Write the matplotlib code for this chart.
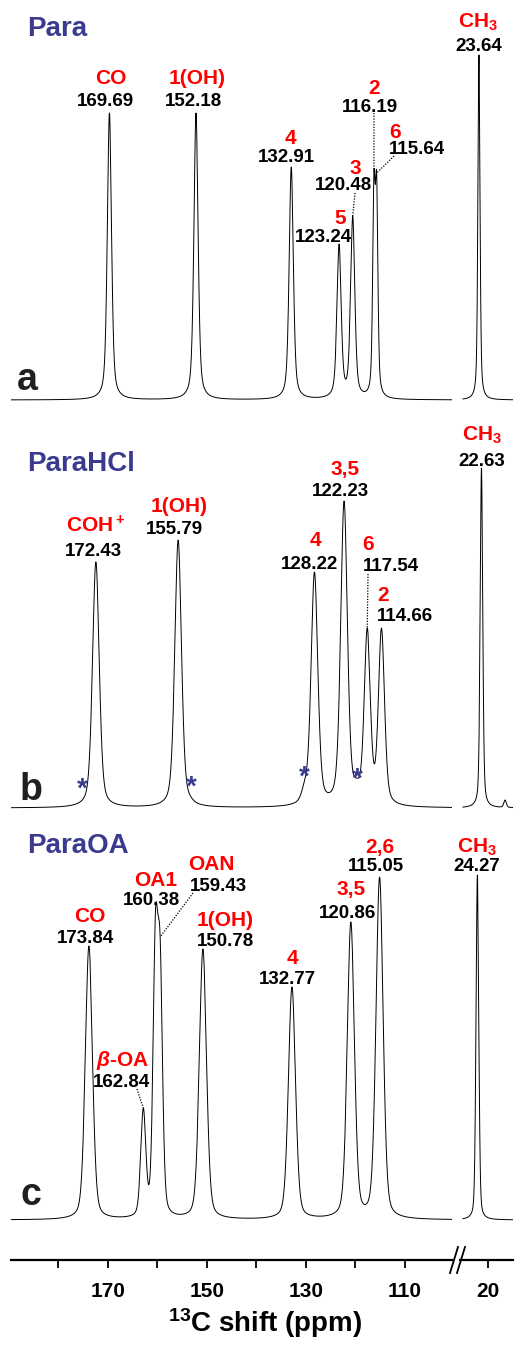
import numpy as np
import matplotlib
matplotlib.use('Agg')
from matplotlib import pyplot as plt
from matplotlib.lines import Line2D

plt.rcParams['font.family'] = ['Liberation Sans', 'DejaVu Sans']
plt.rcParams['font.weight'] = 'bold'
plt.rcParams['mathtext.fontset'] = 'custom'
plt.rcParams['mathtext.rm'] = 'Liberation Sans:bold'
plt.rcParams['mathtext.bf'] = 'Liberation Sans:bold'
plt.rcParams['mathtext.it'] = 'Liberation Sans:italic'

# %% data (shift in ppm, apparent peak height in px)
para_names = ['CO', '1(OH)', '4', '5', '3', '2', '6', 'CH$_3$']
para_shift = [169.69, 152.18, 132.91, 123.24, 120.48, 116.19, 115.64, 23.64]
para_height = [287, 287, 233, 156, 184, 228, 227, 345]
para_width = [1.0, 1.0, 1.0, 1.0, 1.0, 0.6, 0.6, 1.0]

hcl_names = ['COH$^+$', '1(OH)', '4', '3,5', '6', '2', 'CH$_3$']
hcl_shift = [172.43, 155.79, 128.22, 122.23, 117.54, 114.66, 22.63]
hcl_height = [246, 268, 236, 307, 180, 180, 340]
hcl_width = [1.6, 1.6, 1.6, 1.6, 1.45, 1.45, 1.2]
# spinning sidebands (marked with *) plus a small bump near 13 ppm
hcl_sb_shift = [174.6, 153.4, 130.2, 119.7, 13.1]
hcl_sb_height = [13, 13, 28, 30, 8]
hcl_sb_width = [1.45, 1.45, 1.45, 1.45, 1.2]

oa_names = ['CO', r'$\beta$-OA', 'OA1', 'OAN', '1(OH)', '4', '3,5', '2,6', 'CH$_3$']
oa_shift = [173.84, 162.84, 160.38, 159.43, 150.78, 132.77, 120.86, 115.05, 24.27]
oa_height = [274, 112, 309, 283, 271, 233, 298, 343, 345]
oa_width = [1.7, 1.2, 1.15, 1.15, 1.7, 1.7, 1.7, 1.7, 1.3]

# %% layout (pixel positions on the 524x1349 canvas)
W, H = 524, 1349
AX_BOTTOM = 1260
baselines = [400, 808, 1220]
eta = [0.5, 0.4, 0.3]

# (name centre x, name centre y, value centre x, value centre y)
para_lab = [(111, 76, 105, 99), (197, 76, 193, 99), (290, 137, 286, 155),
            (340, 217, 323, 235), (355, 166, 344, 183), (374, 86, 370, 105),
            (395, 130, 417, 147), (478, 20, 479, 44)]
hcl_lab = [(96, 525, 93, 549), (179, 504, 174, 527), (315, 539, 310, 562),
           (345, 467, 340, 489), (368, 542, 391, 564), (383, 594, 405, 614),
           (482, 433, 482, 459)]
oa_lab = [(90, 914, 85, 936), (123, 1058, 122, 1080), (156, 878, 151, 898),
          (211, 862, 218, 884), (225, 918, 226, 939), (292, 956, 287, 977),
          (351, 888, 347, 911), (380, 845, 376, 864), (477, 845, 477, 864)]
asterisk_xy = [(82, 785), (191, 783), (304, 773), (357, 775)]
# dotted leaders: (panel, peak index, text-end x, text-end y)
leaders = [(0, 5, 374, 113), (0, 6, 394, 156), (0, 4, 355, 193),
           (1, 4, 368, 574), (2, 1, 137, 1089), (2, 3, 193, 893)]


def pv(x, c, w, e):
    u = ((x - c) / w) ** 2
    return e / (1 + 4 * u) + (1 - e) * np.exp(-4 * np.log(2) * u)


def amplitudes(shift, height, width, e):
    c = np.array(shift)
    M = np.array([[pv(ci, cj, wj, e) for cj, wj in zip(c, width)] for ci in c])
    return np.linalg.solve(M, np.array(height, float))


def spectrum(x, shift, amp, width, e):
    y = np.zeros_like(x)
    for c, a, w in zip(shift, amp, width):
        y += a * pv(x, c, w, e)
    return y


panels = [
    (para_shift, para_height, para_width),
    (hcl_shift + hcl_sb_shift, hcl_height + hcl_sb_height,
     hcl_width + hcl_sb_width),
    (oa_shift, oa_height, oa_width),
]

fig = plt.figure(figsize=(W / 100, H / 100), dpi=100)
axL = fig.add_axes([11 / W, (H - AX_BOTTOM) / H, 441 / W, AX_BOTTOM / H])
axR = fig.add_axes([460 / W, (H - AX_BOTTOM) / H, 53 / W, AX_BOTTOM / H])

xl = np.arange(100.2, 189.8, 0.02)
xr = np.arange(9.9, 30.1, 0.02)
peak_tops = []
for k, (s, h, w) in enumerate(panels):
    amp = amplitudes(s, h, w, eta[k])
    base = AX_BOTTOM - baselines[k]
    axL.plot(xl, base + spectrum(xl, s, amp, w, eta[k]), color='k', lw=0.7)
    axR.plot(xr, base + spectrum(xr, s, amp, w, eta[k]), color='k', lw=0.7)
    peak_tops.append([(c, base + hh) for c, hh in zip(s, h)])

for ax, lim in ((axL, (189.6, 100.4)), (axR, (31.3, 9.9))):
    ax.set_xlim(*lim)
    ax.set_ylim(0, AX_BOTTOM)
    for sp in ('top', 'left', 'right'):
        ax.spines[sp].set_visible(False)
    ax.spines['bottom'].set_linewidth(1.6)
    ax.set_yticks([])
    ax.tick_params(axis='x', which='both', direction='out', length=6,
                   width=1.3, pad=10, labelsize=15)
    ax.patch.set_visible(False)

axL.set_xticks([170, 150, 130, 110])
axL.set_xticks([180, 160, 140, 120], minor=True)
axR.set_xticks([20])
for lab in axL.get_xticklabels() + axR.get_xticklabels():
    lab.set_fontweight('bold')

# axis break marks
for dx in (0, 7):
    fig.add_artist(Line2D([(450 + dx) / W, (458 + dx) / W],
                          [1 - 1273 / H, 1 - 1247 / H], color='k', lw=1.3))

fig.text(265 / W, 1 - 1323 / H, r'$^{\mathbf{13}}$C shift (ppm)', fontsize=20,
         fontweight='bold', ha='center', va='center')


def put(x, y, s, size, color, **kw):
    # y is the ink centre of the glyphs, shift to baseline
    yb = y + 0.36 * size * 100 / 72
    fig.text(x / W, 1 - yb / H, s, fontsize=size, color=color,
             fontweight='bold', ha='center', va='baseline', **kw)


titles = ['Para', 'ParaHCl', 'ParaOA']
title_base = [36, 471, 853]
letters = ['a', 'b', 'c']
letter_xy = [(17, 390), (20, 800), (21, 1205)]
blue = '#3b3b8e'
for k in range(3):
    fig.text(27 / W, 1 - title_base[k] / H, titles[k], fontsize=20, color=blue,
             fontweight='bold', va='baseline')
    fig.text(letter_xy[k][0] / W, 1 - letter_xy[k][1] / H, letters[k],
             fontsize=27, color='#231f20', fontweight='bold', va='baseline')

for names, shifts, labs in ((para_names, para_shift, para_lab),
                            (hcl_names, hcl_shift, hcl_lab),
                            (oa_names, oa_shift, oa_lab)):
    for n, s, (nx, ny, vx, vy) in zip(names, shifts, labs):
        put(nx, ny, n, 15, '#ff0000')
        put(vx, vy, '{:.2f}'.format(s), 13.5, 'k')

for x, y in asterisk_xy:
    fig.text(x / W, 1 - (y + 12) / H, '*', fontsize=20, color=blue,
             fontweight='bold', ha='center', va='baseline')

# dotted leader lines, drawn in figure coordinates
to_fig = fig.transFigure.inverted()
for p, i, x, y in leaders:
    ax = axR if peak_tops[p][i][0] < 50 else axL
    px, py = to_fig.transform(ax.transData.transform(peak_tops[p][i]))
    fig.add_artist(Line2D([x / W, px], [1 - y / H, py], color='k', lw=0.9,
                          linestyle=(0, (1, 1.2))))

fig.savefig('out.png', dpi=100)
